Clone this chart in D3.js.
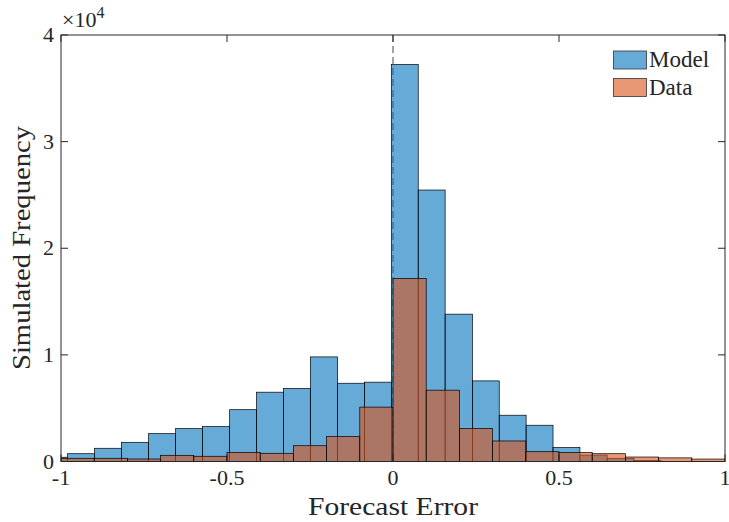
<!DOCTYPE html>
<html>
<head>
<meta charset="utf-8">
<script src="https://cdn.jsdelivr.net/npm/d3@7/dist/d3.min.js"></script>
<style>
  html, body { margin: 0; padding: 0; background: #fff; }
  svg text { font-family: "Liberation Serif", "Times New Roman", serif; fill: #262626; }
</style>
</head>
<body>
<div id="chart"></div>
<script>
// Model histogram: bin edges and counts (auto-binned, width ~0.081)
const modelEdges = [-1.061, -0.980, -0.899, -0.818, -0.736, -0.655, -0.574, -0.492, -0.411, -0.330,
  -0.249, -0.167, -0.086, -0.005, 0.076, 0.157, 0.239, 0.320, 0.401, 0.482, 0.563, 0.645, 0.726, 0.807];
const modelCounts = [400, 730, 1240, 1800, 2610, 3080, 3270, 4860, 6500, 6850,
  9810, 7340, 7440, 37230, 25460, 13820, 7560, 4340, 3400, 1310, 600, 300, 100];

// Data histogram: bin edges and counts (width 0.1)
const dataEdges = [-1, -0.9, -0.8, -0.7, -0.6, -0.5, -0.4, -0.3, -0.2, -0.1, 0,
  0.1, 0.2, 0.3, 0.4, 0.5, 0.6, 0.7, 0.8, 0.9, 1];
const dataCounts = [300, 300, 235, 580, 490, 860, 770, 1480, 2330, 5100,
  17160, 6690, 3100, 1925, 920, 850, 730, 420, 340, 230];

const xTicks = [-1, -0.5, 0, 0.5, 1];
const xTickLabels = ['-1', '-0.5', '0', '0.5', '1'];
const yTicks = [0, 10000, 20000, 30000, 40000];
const yTickLabels = ['0', '1', '2', '3', '4'];

const seriesNames = ['Model', 'Data'];
const seriesColors = ['#0072BD', '#D95319'];

const W = 729, H = 522;
const plot = { left: 61, right: 725, top: 35, bottom: 461.5 };

const x = d3.scaleLinear().domain([-1, 1]).range([plot.left, plot.right]);
const y = d3.scaleLinear().domain([0, 40000]).range([plot.bottom, plot.top]);

const svg = d3.select('#chart').append('svg')
  .attr('width', W).attr('height', H);

svg.append('defs').append('clipPath').attr('id', 'plot-clip')
  .append('rect')
  .attr('x', plot.left).attr('y', plot.top)
  .attr('width', plot.right - plot.left).attr('height', plot.bottom - plot.top);

const bins = (edges, counts) => counts.map((c, i) => ({ x0: edges[i], x1: edges[i + 1], c }));

const g = svg.append('g').attr('clip-path', 'url(#plot-clip)');

// dashed reference line at zero
g.append('line')
  .attr('x1', x(0)).attr('x2', x(0))
  .attr('y1', plot.top).attr('y2', plot.bottom)
  .attr('stroke', '#666')
  .attr('stroke-width', 1.2)
  .attr('stroke-dasharray', '7,4');

[[modelEdges, modelCounts], [dataEdges, dataCounts]].forEach(([edges, counts], k) => {
  g.append('g')
    .selectAll('rect')
    .data(bins(edges, counts))
    .join('rect')
    .attr('x', d => x(d.x0))
    .attr('width', d => x(d.x1) - x(d.x0))
    .attr('y', d => y(d.c))
    .attr('height', d => y(0) - y(d.c))
    .attr('fill', seriesColors[k])
    .attr('fill-opacity', 0.6)
    .attr('stroke', '#000')
    .attr('stroke-width', 0.7);
});

// axes box
svg.append('rect')
  .attr('x', plot.left).attr('y', plot.top)
  .attr('width', plot.right - plot.left).attr('height', plot.bottom - plot.top)
  .attr('fill', 'none')
  .attr('stroke', '#262626')
  .attr('stroke-width', 1);

const tickLen = 7;
const ticks = svg.append('g').attr('stroke', '#262626').attr('stroke-width', 1);
xTicks.forEach(v => {
  ticks.append('line').attr('x1', x(v)).attr('x2', x(v)).attr('y1', plot.bottom).attr('y2', plot.bottom - tickLen);
  ticks.append('line').attr('x1', x(v)).attr('x2', x(v)).attr('y1', plot.top).attr('y2', plot.top + tickLen);
});
yTicks.forEach(v => {
  ticks.append('line').attr('x1', plot.left).attr('x2', plot.left + tickLen).attr('y1', y(v)).attr('y2', y(v));
  ticks.append('line').attr('x1', plot.right).attr('x2', plot.right - tickLen).attr('y1', y(v)).attr('y2', y(v));
});

svg.append('g').selectAll('text')
  .data(xTicks)
  .join('text')
  .attr('x', d => x(d))
  .attr('y', 485)
  .attr('text-anchor', 'middle')
  .attr('font-size', 22)
  .text((d, i) => xTickLabels[i]);

svg.append('g').selectAll('text')
  .data(yTicks)
  .join('text')
  .attr('x', 54)
  .attr('y', d => y(d) + 7)
  .attr('text-anchor', 'end')
  .attr('font-size', 22)
  .text((d, i) => yTickLabels[i]);

// exponent label
const ex = svg.append('text').attr('x', 62).attr('y', 27).attr('font-size', 22);
ex.append('tspan').text('\u00d710');
ex.append('tspan').attr('font-size', 16).attr('dy', -9).text('4');

svg.append('text')
  .attr('x', 393).attr('y', 515)
  .attr('text-anchor', 'middle')
  .attr('font-size', 25)
  .attr('textLength', 170)
  .attr('lengthAdjust', 'spacingAndGlyphs')
  .text('Forecast Error');

svg.append('text')
  .attr('transform', 'translate(30,248) rotate(-90)')
  .attr('text-anchor', 'middle')
  .attr('font-size', 25)
  .attr('textLength', 244)
  .attr('lengthAdjust', 'spacingAndGlyphs')
  .text('Simulated Frequency');

// legend
const legend = svg.append('g');
seriesNames.forEach((name, i) => {
  const ly = 51 + i * 27.5;
  legend.append('rect')
    .attr('x', 613.5).attr('y', ly)
    .attr('width', 33).attr('height', 18)
    .attr('fill', seriesColors[i]).attr('fill-opacity', 0.6)
    .attr('stroke', '#333').attr('stroke-width', 0.8);
  legend.append('text')
    .attr('x', 649).attr('y', ly + 16)
    .attr('font-size', 23)
    .text(name);
});
</script>
</body>
</html>
